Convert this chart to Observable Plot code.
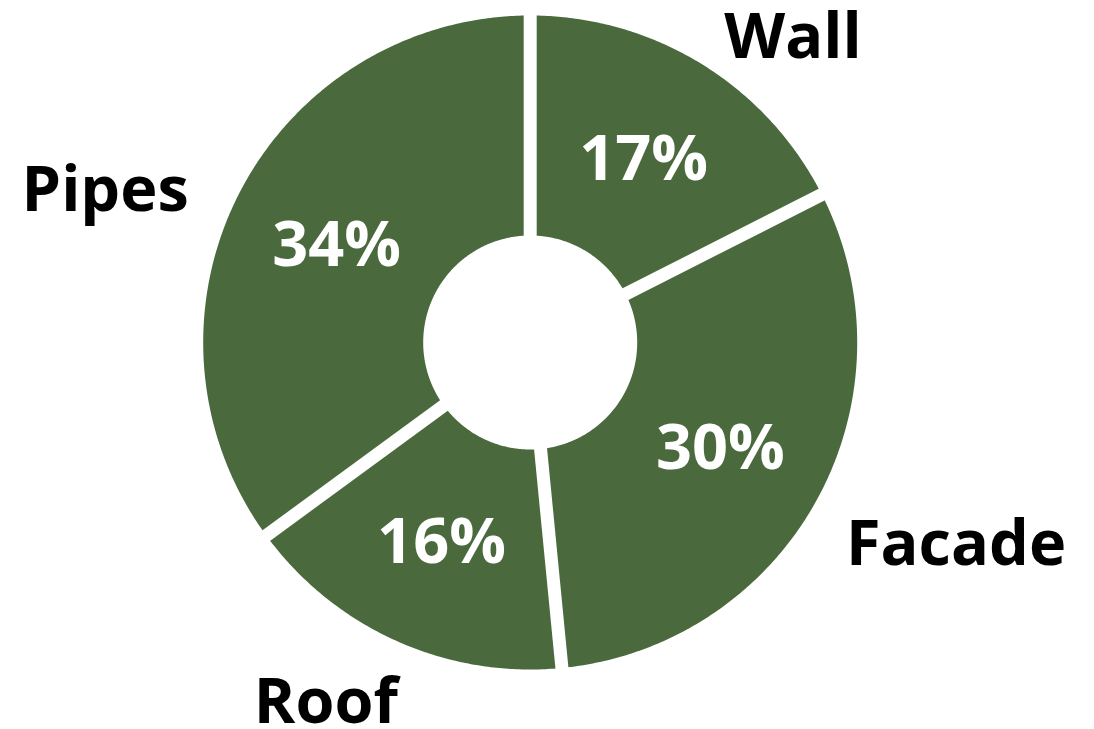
<!DOCTYPE html>
<html><head><meta charset="utf-8">
<script src="https://cdn.jsdelivr.net/npm/d3@7"></script>
<script src="https://cdn.jsdelivr.net/npm/@observablehq/plot@0.6"></script>
<style>html,body{margin:0;padding:0;background:#fff} #chart svg{display:block}</style>
</head><body><div id="chart"></div>
<script>
// ---- data ----
const categories = ["Wall", "Facade", "Roof", "Pipes"];
const values = [17, 30, 16, 34];
const percentLabels = ["17%", "30%", "16%", "34%"];

// ---- layout ----
const W = 1094, H = 729;
const cx = 529.7, cy = 342, R = 327, R0 = 107;
const inner = R0 / R;
const green = "#4a6a3e";
const font = "Open Sans";
const labelNudge = {Wall: [-1, 11], Facade: [-11, 21], Roof: [20, 18], Pipes: [-9, 15]};

const rows = categories.map((c, i) => ({category: c, value: values[i], label: percentLabels[i]}));
const arcs = d3.pie().sort(null).value(d => d.value)(rows);

const slicePts = [];
for (const s of arcs) {
  const n = Math.max(2, Math.ceil((s.endAngle - s.startAngle) / (Math.PI / 360)));
  for (let k = 0; k <= n; k++) {
    const a = s.startAngle + (s.endAngle - s.startAngle) * k / n;
    slicePts.push({category: s.data.category, x: Math.sin(a), y: Math.cos(a)});
  }
  for (let k = n; k >= 0; k--) {
    const a = s.startAngle + (s.endAngle - s.startAngle) * k / n;
    slicePts.push({category: s.data.category, x: inner * Math.sin(a), y: inner * Math.cos(a)});
  }
}
const seps = arcs.map(s => ({a: s.startAngle}));
const mids = arcs.map(s => {
  const a = (s.startAngle + s.endAngle) / 2;
  const nd = labelNudge[s.data.category];
  return {
    ...s.data, a,
    px: (1 + inner) / 2 * Math.sin(a), py: (1 + inner) / 2 * Math.cos(a),
    lx: 1.14 * Math.sin(a) + nd[0] / R, ly: 1.14 * Math.cos(a) - nd[1] / R
  };
});

const chart = Plot.plot({
  width: W, height: H,
  margin: 0,
  x: {axis: null, domain: [-1, 1], range: [cx - R, cx + R]},
  y: {axis: null, domain: [-1, 1], range: [cy + R, cy - R]},
  style: {fontFamily: font, background: "#fff"},
  marks: [
    Plot.line(slicePts, {x: "x", y: "y", z: "category", fill: green, stroke: "none", curve: "linear"}),
    Plot.link(seps, {
      x1: d => 0.2 * Math.sin(d.a), y1: d => 0.2 * Math.cos(d.a),
      x2: d => 1.06 * Math.sin(d.a), y2: d => 1.06 * Math.cos(d.a),
      stroke: "white", strokeWidth: 13, strokeLinecap: "butt"
    }),
    Plot.text(mids, {x: "px", y: "py", text: "label", fill: "white", fontSize: 63, fontWeight: 700, fontFamily: font, dy: 2}),
    Plot.text(mids.filter(d => Math.sin(d.a) > 0), {x: "lx", y: "ly", text: "category", fill: "black", fontSize: 63, fontWeight: 700, fontFamily: font, textAnchor: "start", dy: 2}),
    Plot.text(mids.filter(d => Math.sin(d.a) <= 0), {x: "lx", y: "ly", text: "category", fill: "black", fontSize: 63, fontWeight: 700, fontFamily: font, textAnchor: "end", dy: 2})
  ]
});
document.getElementById("chart").appendChild(chart);
</script>
</body></html>
